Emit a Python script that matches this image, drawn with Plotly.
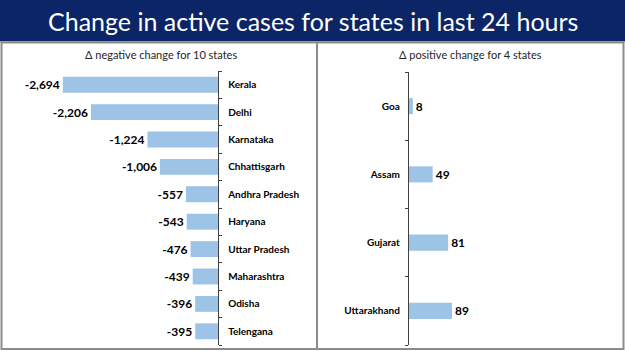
import plotly.graph_objects as go

neg_states = ["Kerala", "Delhi", "Karnataka", "Chhattisgarh", "Andhra Pradesh",
              "Haryana", "Uttar Pradesh", "Maharashtra", "Odisha", "Telengana"]
neg_values = [-2694, -2206, -1224, -1006, -557, -543, -476, -439, -396, -395]

pos_states = ["Goa", "Assam", "Gujarat", "Uttarakhand"]
pos_values = [8, 49, 81, 89]

title_text = "Change in active cases for states in last 24 hours"
left_sub = "Δ negative change for 10 states"
right_sub = "Δ positive change for 4 states"

W, H = 625, 351
BAR = "#9dc3e6"
NAVY = "#0b2566"
FONT = "Lato"

def px(x):
    return x / W

def py(y):
    return 1 - y / H

fig = go.Figure()

fig.add_trace(go.Bar(
    x=neg_values, y=neg_states, orientation="h",
    marker=dict(color=BAR, line=dict(width=0)), width=0.58,
    text=[f"{v:,}" for v in neg_values], textposition="outside",
    textfont=dict(family=FONT, size=12, color="black", weight="bold"),
    cliponaxis=False, xaxis="x", yaxis="y", showlegend=False,
))
fig.add_trace(go.Bar(
    x=pos_values, y=pos_states, orientation="h",
    marker=dict(color=BAR, line=dict(width=0)), width=0.235,
    text=[f"{v:,}" for v in pos_values], textposition="outside",
    textfont=dict(family=FONT, size=12, color="black", weight="bold"),
    cliponaxis=False, xaxis="x2", yaxis="y2", showlegend=False,
))

left_scale = 0.0576
right_scale = 0.483
lx0, lx1 = 20, 218
rx0, rx1 = 409, 615

fig.update_layout(
    width=W, height=H,
    margin=dict(l=0, r=0, t=0, b=0),
    paper_bgcolor="white", plot_bgcolor="white",
    xaxis=dict(domain=[px(lx0), px(lx1)], range=[-(lx1 - lx0) / left_scale, 0],
               visible=False, fixedrange=True),
    yaxis=dict(domain=[py(345), py(71)], anchor="x", side="right",
               categoryorder="array", categoryarray=neg_states[::-1],
               showline=True, linecolor="#404040", linewidth=1.3,
               ticks="outside", tickson="boundaries", ticklen=3, tickcolor="#404040",
               tickwidth=1.3, ticklabelstandoff=7,
               tickfont=dict(family=FONT, size=10, color="black", weight="bold"),
               showgrid=False, zeroline=False),
    xaxis2=dict(domain=[px(rx0), px(rx1)], range=[0, (rx1 - rx0) / right_scale],
                visible=False, fixedrange=True),
    yaxis2=dict(domain=[py(345), py(72)], anchor="x2", side="left",
                categoryorder="array", categoryarray=pos_states[::-1],
                showline=True, linecolor="#404040", linewidth=1.3,
                ticks="outside", tickson="boundaries", ticklen=3, tickcolor="#404040",
                tickwidth=1.3, ticklabelstandoff=6,
                tickfont=dict(family=FONT, size=10, color="black", weight="bold"),
                showgrid=False, zeroline=False),
    shapes=[
        dict(type="rect", xref="paper", yref="paper", x0=0, x1=1, y0=py(41.5), y1=1,
             fillcolor=NAVY, line=dict(width=0), layer="below"),
        dict(type="line", xref="paper", yref="paper", x0=0, x1=1, y0=py(42), y1=py(42),
             line=dict(color="#d9a66b", width=1)),
        dict(type="rect", xref="paper", yref="paper", x0=px(1.5), x1=px(623.5),
             y0=py(349), y1=py(42.5), line=dict(color="#8c8c8c", width=2),
             fillcolor="rgba(0,0,0,0)"),
        dict(type="line", xref="paper", yref="paper", x0=px(317), x1=px(317),
             y0=py(349), y1=py(42.5), line=dict(color="#8c8c8c", width=2)),
    ],
    annotations=[
        dict(text=title_text, xref="paper", yref="paper", x=px(313), y=py(21),
             xanchor="center", yanchor="middle", showarrow=False,
             font=dict(family=FONT, size=25, color="white")),
        dict(text=left_sub, xref="paper", yref="paper", x=px(161), y=py(54),
             xanchor="center", yanchor="middle", showarrow=False,
             font=dict(family=FONT, size=11, color="#262626")),
        dict(text=right_sub, xref="paper", yref="paper", x=px(470), y=py(54),
             xanchor="center", yanchor="middle", showarrow=False,
             font=dict(family=FONT, size=11, color="#262626")),
    ],
)

fig.write_html("out.html")
